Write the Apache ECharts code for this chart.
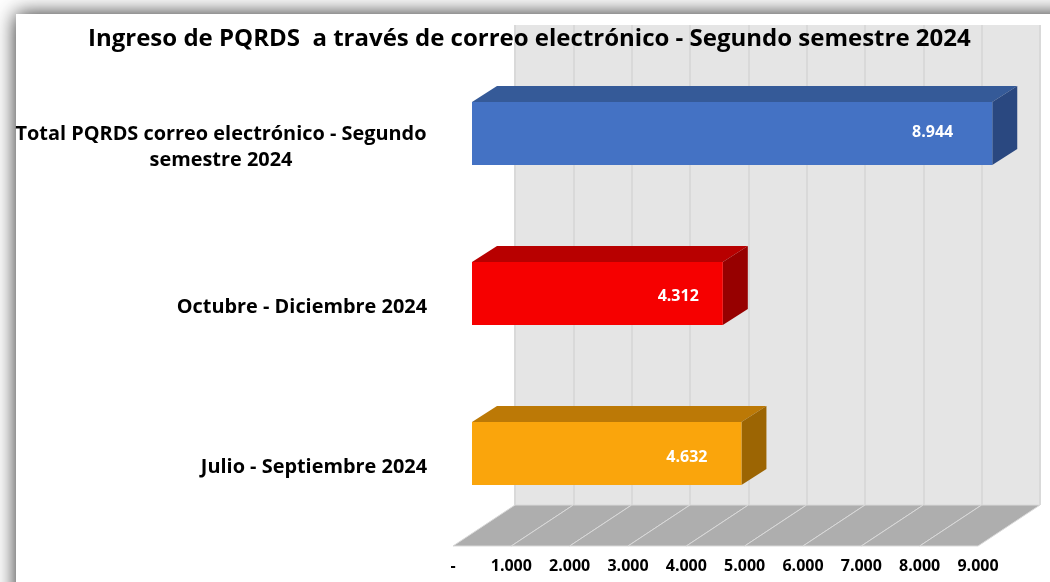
<!DOCTYPE html>
<html><head><meta charset="utf-8">
<style>html,body{margin:0;padding:0;background:#fff}#c{width:1050px;height:582px}</style>
<script src="https://cdn.jsdelivr.net/npm/echarts@6/dist/echarts.min.js"></script>
</head><body><div id="c"></div>
<script>
const titleText = 'Ingreso de PQRDS  a través de correo electrónico - Segundo semestre 2024';
const categories = ['Total PQRDS correo electrónico - Segundo semestre 2024', 'Octubre - Diciembre 2024', 'Julio - Septiembre 2024'];
const values = [8944, 4312, 4632];
const valueLabels = ['8.944', '4.312', '4.632'];
const tickLabels = ['-', '1.000', '2.000', '3.000', '4.000', '5.000', '6.000', '7.000', '8.000', '9.000'];
const floorCells = [0, 1000, 2000, 3000, 4000, 5000, 6000, 7000, 8000];

const faces = [
  {front:'#4472c4', top:'#355a98', side:'#2a4880', dist:39, dy:-1.5},
  {front:'#f60000', top:'#b80000', side:'#970000', dist:24, dy:2.5},
  {front:'#faa50c', top:'#bc7906', side:'#9c6503', dist:34, dy:3.5}
];
const DX = 25, DY = -16, FLOOR_DX = 62;
const font = '"Open Sans"';
const catSize = 19.9;

const chart = echarts.init(document.getElementById('c'), null, {renderer:'canvas'});
chart.setOption({
  animation:false,
  backgroundColor:'#fff',
  textStyle:{fontFamily:font},
  title:{text:titleText,left:83,top:22,textStyle:{fontFamily:font,fontSize:24,fontWeight:'bold',color:'#000'}},
  graphic:[{type:'rect',z:-100,silent:true,shape:{x:16,y:14,width:1300,height:800},
    style:{fill:'#fff',shadowBlur:20,shadowColor:'rgba(0,0,0,0.85)'}}],
  grid:[
    {left:515,width:525,top:25,height:480,show:true,backgroundColor:'#e5e5e5',borderWidth:0},
    {left:453,width:525,top:505,height:41},
    {left:472,width:523.5,top:53.5,height:480}
  ],
  xAxis:[
    {gridIndex:0,type:'value',min:0,max:9000,interval:1000,axisLabel:{show:false},axisLine:{show:false},axisTick:{show:false},
      splitLine:{show:true,lineStyle:{color:'#d9d9d9',width:2}}},
    {gridIndex:1,type:'value',min:0,max:9000,interval:1000,axisLine:{show:false},axisTick:{show:false},splitLine:{show:false},
      axisLabel:{show:true,margin:12,fontFamily:font,fontSize:16,fontWeight:'bold',color:'#000',hideOverlap:false,
        formatter:v=>tickLabels[Math.round(v/1000)]}},
    {gridIndex:2,type:'value',min:0,max:9000,interval:1000,show:false}
  ],
  yAxis:[
    {gridIndex:0,type:'value',min:0,max:1,show:false},
    {gridIndex:1,type:'value',min:0,max:1,show:false},
    {gridIndex:2,type:'category',inverse:true,data:categories,axisLine:{show:false},axisTick:{show:false},
      axisLabel:{margin:45,align:'right',padding:[28,0,0,0],fontFamily:font,fontSize:catSize,fontWeight:'bold',color:'#000',lineHeight:26,
        formatter:v=>v.length>40
          ? '{c|Total PQRDS correo electrónico - Segundo}\n{c|semestre 2024}'
          : v,
        rich:{c:{width:412,align:'center',fontFamily:font,fontSize:catSize,fontWeight:'bold',color:'#000',lineHeight:26}}}}
  ],
  series:[
    {type:'custom',name:'Suelo',xAxisIndex:1,yAxisIndex:1,z:1,silent:true,clip:false,data:floorCells.map(v=>[v]),
      renderItem:(p,api)=>{
        const v=api.value(0);
        const a=api.coord([v,0]),b=api.coord([v+1000,0]),c=api.coord([v+1000,1]),d=api.coord([v,1]);
        return {type:'polygon',shape:{points:[a,b,[c[0]+FLOOR_DX,c[1]],[d[0]+FLOOR_DX,d[1]]]},
          style:{fill:'#aeaeae',stroke:'#d9d9d9',lineWidth:1}};
      }},
    {type:'custom',name:'Caras',xAxisIndex:2,yAxisIndex:2,z:2,silent:true,clip:false,
      data:values.map((v,i)=>[v,i]),
      renderItem:(p,api)=>{
        const v=api.value(0),i=api.value(1);
        const h=api.size([0,1])[1]*63/160;
        const o=api.coord([0,i]),e=api.coord([v,i]);
        const top=e[1]-h/2,bot=e[1]+h/2,f=faces[i];
        return {type:'group',children:[
          {type:'polygon',shape:{points:[[o[0],top],[e[0],top],[e[0]+DX,top+DY],[o[0]+DX,top+DY]]},style:{fill:f.top}},
          {type:'polygon',shape:{points:[[e[0],top],[e[0]+DX,top+DY],[e[0]+DX,bot+DY],[e[0],bot]]},style:{fill:f.side}}
        ]};
      }},
    {type:'bar',name:'PQRDS',xAxisIndex:2,yAxisIndex:2,z:3,barWidth:63,silent:true,
      data:values.map((v,i)=>({value:v,itemStyle:{color:faces[i].front},
        label:{show:true,position:'insideRight',distance:faces[i].dist,offset:[0,faces[i].dy],
          formatter:valueLabels[i],color:'#fff',fontFamily:font,fontSize:16,fontWeight:'bold'}}))}
  ]
});
</script></body></html>
